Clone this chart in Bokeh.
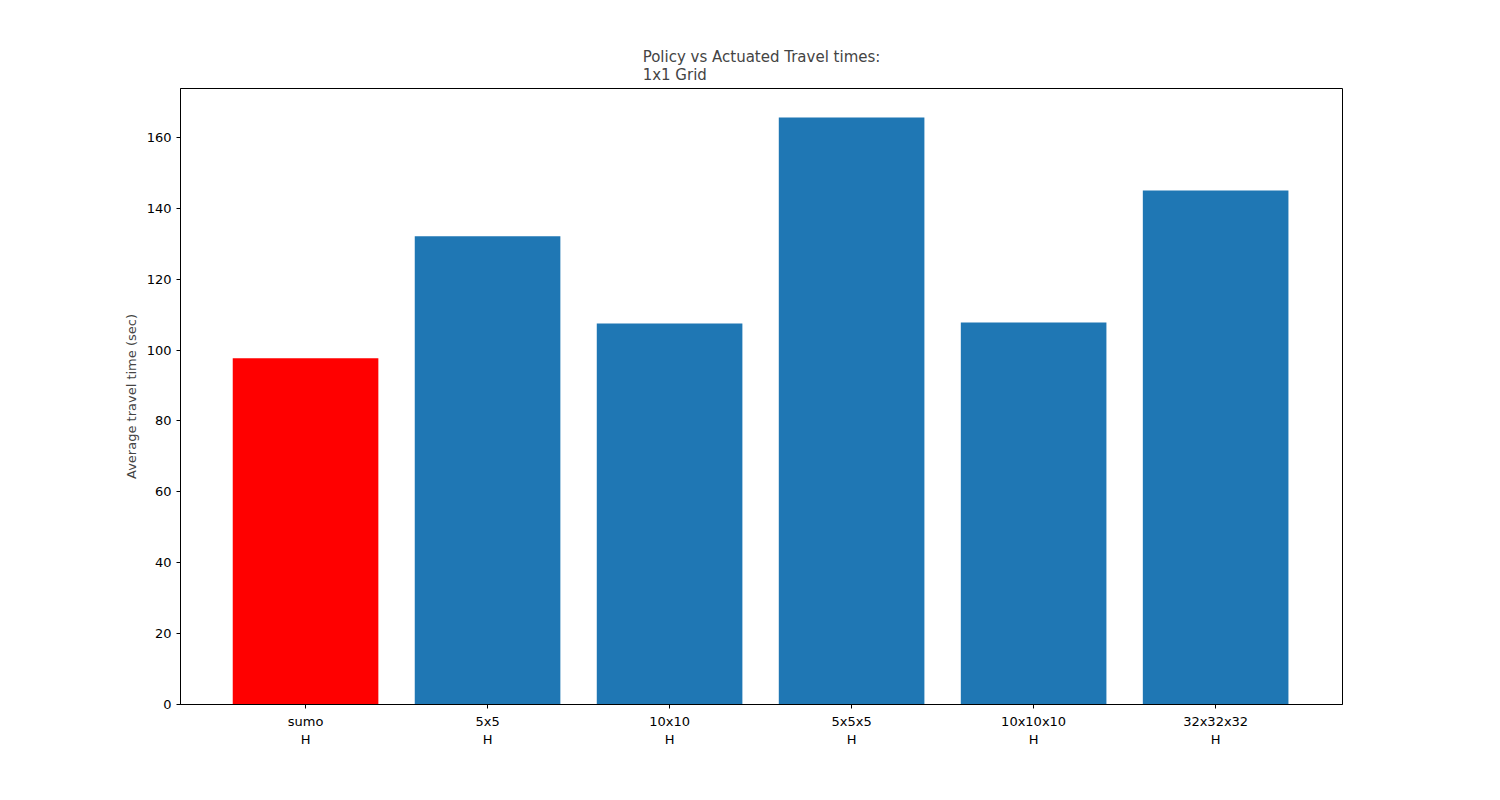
from bokeh.plotting import figure
from bokeh.models import Range1d, FixedTicker
from bokeh.embed import file_html
from bokeh.resources import INLINE

labels = ["sumo\nH", "5x5\nH", "10x10\nH", "5x5x5\nH", "10x10x10\nH", "32x32x32\nH"]
values = [97.7, 132.1, 107.5, 165.6, 107.8, 145.0]
colors = ["#ff0000", "#1f77b4", "#1f77b4", "#1f77b4", "#1f77b4", "#1f77b4"]
xs = list(range(len(labels)))

p = figure(width=1484, height=784, output_backend="svg", toolbar_location=None,
           x_range=Range1d(-0.687, 5.697), y_range=Range1d(0, 173.8),
           min_border_left=180, min_border_right=142, min_border_top=88, min_border_bottom=80)
p.vbar(x=xs, top=values, width=0.8, fill_color=colors, line_color=None)

p.title.text = "Policy vs Actuated Travel times:\n1x1 Grid"
p.title.align = "center"
p.title.text_font = "DejaVu Sans"
p.title.text_font_size = "15px"
p.title.text_font_style = "normal"

p.xgrid.visible = False
p.ygrid.visible = False
p.outline_line_color = "black"
p.outline_line_alpha = 1

p.xaxis.ticker = FixedTicker(ticks=xs)
p.xaxis.major_label_overrides = {i: l for i, l in zip(xs, labels)}
p.yaxis.ticker = FixedTicker(ticks=[0, 20, 40, 60, 80, 100, 120, 140, 160])
p.yaxis.axis_label = "Average travel time (sec)"
for ax in (p.xaxis, p.yaxis):
    ax.major_label_text_font = "DejaVu Sans"
    ax.major_label_text_font_size = "13px"
    ax.axis_label_text_font = "DejaVu Sans"
    ax.axis_label_text_font_size = "13px"
    ax.axis_label_text_font_style = "normal"
    ax.minor_tick_line_color = None
    ax.major_tick_out = 4
    ax.major_tick_in = 0
    ax.axis_line_color = "black"
    ax.major_label_text_color = "black"

open("out.html", "w").write(file_html(p, INLINE))
